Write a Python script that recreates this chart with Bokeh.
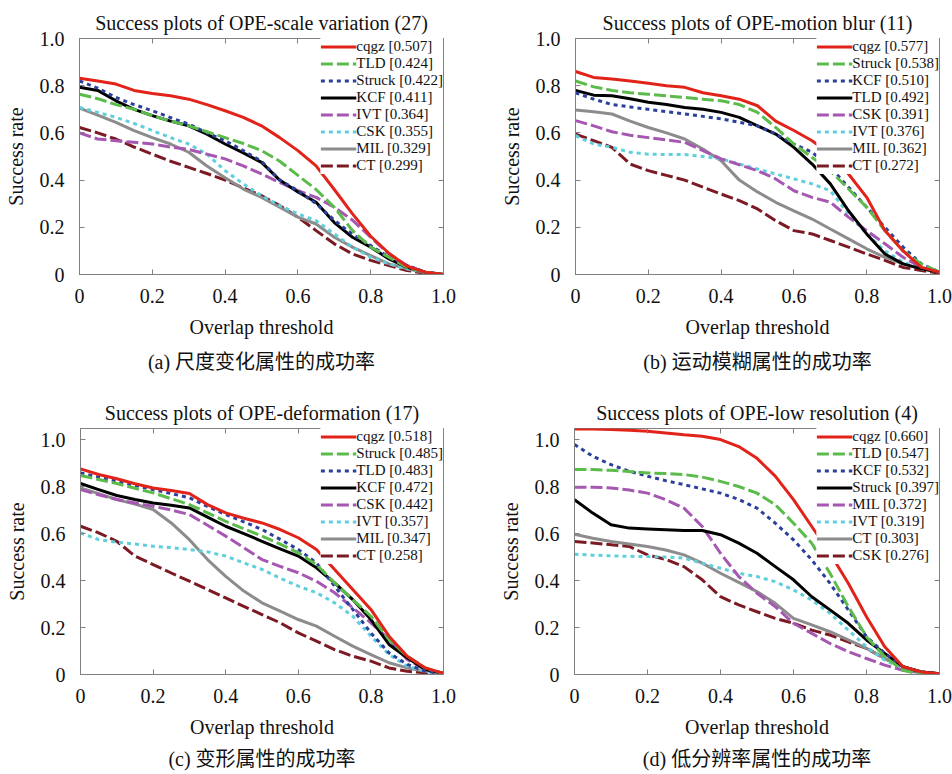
from bokeh.plotting import figure
from bokeh.layouts import column, row
from bokeh.models import Legend, LegendItem, LinearAxis, Title, FixedTicker, Range1d
from bokeh.embed import file_html
from bokeh.resources import INLINE

# ---------------- data ----------------
x = [0.0, 0.05, 0.1, 0.15, 0.2, 0.25, 0.3, 0.35, 0.4, 0.45, 0.5,
     0.55, 0.6, 0.65, 0.7, 0.75, 0.8, 0.85, 0.9, 0.95, 1.0]
ticks = [0, 0.2, 0.4, 0.6, 0.8, 1.0]
tick_labels = ["0", "0.2", "0.4", "0.6", "0.8", "1.0"]

titles = ["Success plots of OPE-scale variation (27)",
          "Success plots of OPE-motion blur (11)",
          "Success plots of OPE-deformation (17)",
          "Success plots of OPE-low resolution (4)"]
captions = ["(a) 尺度变化属性的成功率", "(b) 运动模糊属性的成功率",
            "(c) 变形属性的成功率", "(d) 低分辨率属性的成功率"]

# (a) scale variation
names_a = ["cqgz", "TLD", "Struck", "KCF", "IVT", "CSK", "MIL", "CT"]
scores_a = [0.507, 0.424, 0.422, 0.411, 0.364, 0.355, 0.329, 0.299]
a_cqgz = [0.832, 0.82, 0.807, 0.78, 0.767, 0.757, 0.743, 0.72, 0.694, 0.666, 0.63, 0.58, 0.525, 0.46, 0.36, 0.257, 0.162, 0.09, 0.035, 0.01, 0.0]
a_tld = [0.764, 0.745, 0.72, 0.70, 0.673, 0.65, 0.63, 0.605, 0.58, 0.555, 0.525, 0.48, 0.42, 0.36, 0.285, 0.186, 0.116, 0.073, 0.03, 0.01, 0.0]
a_struck = [0.82, 0.79, 0.75, 0.72, 0.694, 0.665, 0.637, 0.60, 0.567, 0.525, 0.48, 0.40, 0.355, 0.30, 0.23, 0.17, 0.123, 0.073, 0.038, 0.01, 0.0]
a_kcf = [0.793, 0.78, 0.736, 0.70, 0.673, 0.65, 0.63, 0.595, 0.553, 0.515, 0.475, 0.40, 0.35, 0.306, 0.22, 0.158, 0.116, 0.066, 0.03, 0.01, 0.0]
a_ivt = [0.60, 0.574, 0.567, 0.56, 0.553, 0.54, 0.53, 0.51, 0.49, 0.46, 0.426, 0.39, 0.355, 0.327, 0.285, 0.23, 0.158, 0.087, 0.038, 0.01, 0.0]
a_csk = [0.708, 0.687, 0.666, 0.64, 0.61, 0.58, 0.553, 0.51, 0.44, 0.384, 0.334, 0.292, 0.257, 0.228, 0.172, 0.116, 0.073, 0.045, 0.024, 0.01, 0.0]
a_mil = [0.705, 0.675, 0.645, 0.61, 0.58, 0.553, 0.518, 0.46, 0.41, 0.362, 0.327, 0.285, 0.243, 0.214, 0.158, 0.116, 0.08, 0.045, 0.024, 0.008, 0.0]
a_ct = [0.623, 0.60, 0.574, 0.54, 0.51, 0.48, 0.454, 0.428, 0.40, 0.367, 0.334, 0.292, 0.243, 0.186, 0.13, 0.087, 0.06, 0.038, 0.017, 0.005, 0.0]

# (b) motion blur
names_b = ["cqgz", "Struck", "KCF", "TLD", "CSK", "IVT", "MIL", "CT"]
scores_b = [0.577, 0.538, 0.510, 0.492, 0.391, 0.376, 0.362, 0.272]
b_cqgz = [0.86, 0.835, 0.828, 0.82, 0.81, 0.80, 0.793, 0.77, 0.757, 0.743, 0.715, 0.65, 0.61, 0.567, 0.51, 0.426, 0.327, 0.186, 0.10, 0.03, 0.01]
b_struck = [0.82, 0.795, 0.78, 0.77, 0.764, 0.757, 0.75, 0.743, 0.736, 0.72, 0.687, 0.623, 0.553, 0.496, 0.44, 0.362, 0.285, 0.186, 0.10, 0.045, 0.01]
b_kcf = [0.77, 0.743, 0.72, 0.71, 0.70, 0.69, 0.68, 0.67, 0.66, 0.645, 0.63, 0.595, 0.553, 0.518, 0.454, 0.37, 0.285, 0.20, 0.116, 0.045, 0.01]
b_tld = [0.78, 0.76, 0.757, 0.745, 0.73, 0.72, 0.708, 0.70, 0.687, 0.666, 0.63, 0.595, 0.539, 0.468, 0.384, 0.27, 0.172, 0.087, 0.045, 0.024, 0.01]
b_csk = [0.652, 0.63, 0.605, 0.59, 0.58, 0.57, 0.56, 0.525, 0.49, 0.465, 0.44, 0.405, 0.355, 0.327, 0.306, 0.243, 0.186, 0.13, 0.073, 0.03, 0.01]
b_ivt = [0.588, 0.553, 0.539, 0.518, 0.51, 0.508, 0.508, 0.50, 0.49, 0.468, 0.447, 0.426, 0.405, 0.384, 0.355, 0.257, 0.172, 0.10, 0.052, 0.024, 0.01]
b_mil = [0.697, 0.69, 0.68, 0.65, 0.623, 0.60, 0.574, 0.532, 0.482, 0.40, 0.35, 0.306, 0.27, 0.235, 0.193, 0.151, 0.109, 0.073, 0.045, 0.024, 0.01]
b_ct = [0.595, 0.567, 0.539, 0.468, 0.44, 0.42, 0.40, 0.37, 0.341, 0.313, 0.278, 0.228, 0.186, 0.172, 0.144, 0.116, 0.087, 0.06, 0.03, 0.017, 0.005]

# (c) deformation
names_c = ["cqgz", "Struck", "TLD", "KCF", "CSK", "IVT", "MIL", "CT"]
scores_c = [0.518, 0.485, 0.483, 0.472, 0.442, 0.357, 0.347, 0.258]
c_cqgz = [0.875, 0.851, 0.833, 0.812, 0.794, 0.783, 0.77, 0.723, 0.688, 0.665, 0.645, 0.617, 0.582, 0.532, 0.447, 0.362, 0.277, 0.163, 0.078, 0.028, 0.005]
c_struck = [0.847, 0.83, 0.813, 0.793, 0.773, 0.748, 0.723, 0.688, 0.652, 0.62, 0.589, 0.555, 0.518, 0.468, 0.39, 0.319, 0.248, 0.149, 0.078, 0.028, 0.005]
c_tld = [0.858, 0.84, 0.823, 0.805, 0.787, 0.77, 0.752, 0.715, 0.681, 0.65, 0.617, 0.575, 0.532, 0.475, 0.376, 0.277, 0.177, 0.092, 0.043, 0.014, 0.005]
c_kcf = [0.813, 0.787, 0.762, 0.745, 0.73, 0.72, 0.709, 0.67, 0.631, 0.60, 0.567, 0.535, 0.504, 0.454, 0.39, 0.319, 0.234, 0.128, 0.071, 0.021, 0.005]
c_csk = [0.787, 0.765, 0.745, 0.73, 0.716, 0.70, 0.681, 0.635, 0.589, 0.54, 0.489, 0.46, 0.433, 0.397, 0.348, 0.284, 0.22, 0.149, 0.064, 0.021, 0.005]
c_ivt = [0.603, 0.574, 0.563, 0.555, 0.546, 0.54, 0.532, 0.522, 0.504, 0.475, 0.447, 0.41, 0.376, 0.348, 0.305, 0.248, 0.163, 0.085, 0.035, 0.014, 0.005]
c_mil = [0.794, 0.77, 0.745, 0.725, 0.702, 0.645, 0.574, 0.489, 0.418, 0.355, 0.305, 0.27, 0.234, 0.206, 0.163, 0.121, 0.085, 0.05, 0.028, 0.014, 0.005]
c_ct = [0.631, 0.603, 0.567, 0.504, 0.468, 0.432, 0.397, 0.362, 0.326, 0.29, 0.255, 0.22, 0.177, 0.142, 0.106, 0.078, 0.057, 0.028, 0.014, 0.007, 0.003]

# (d) low resolution
names_d = ["cqgz", "TLD", "KCF", "Struck", "MIL", "IVT", "CT", "CSK"]
scores_d = [0.660, 0.547, 0.532, 0.397, 0.372, 0.319, 0.303, 0.276]
d_cqgz = [1.045, 1.045, 1.043, 1.04, 1.035, 1.028, 1.02, 1.014, 1.0, 0.97, 0.92, 0.844, 0.744, 0.63, 0.516, 0.388, 0.246, 0.118, 0.033, 0.011, 0.003]
d_tld = [0.872, 0.872, 0.869, 0.864, 0.858, 0.855, 0.851, 0.84, 0.822, 0.80, 0.772, 0.723, 0.644, 0.559, 0.431, 0.289, 0.161, 0.075, 0.018, 0.0, 0.0]
d_kcf = [0.979, 0.929, 0.893, 0.865, 0.844, 0.825, 0.808, 0.79, 0.772, 0.745, 0.708, 0.644, 0.573, 0.488, 0.388, 0.275, 0.161, 0.09, 0.033, 0.011, 0.003]
d_struck = [0.744, 0.687, 0.637, 0.623, 0.619, 0.616, 0.613, 0.613, 0.595, 0.559, 0.516, 0.459, 0.403, 0.331, 0.275, 0.218, 0.147, 0.09, 0.033, 0.011, 0.003]
d_mil = [0.797, 0.797, 0.794, 0.785, 0.772, 0.744, 0.708, 0.63, 0.516, 0.417, 0.346, 0.289, 0.218, 0.175, 0.132, 0.097, 0.068, 0.04, 0.018, 0.007, 0.003]
d_ivt = [0.512, 0.508, 0.505, 0.503, 0.502, 0.50, 0.495, 0.474, 0.452, 0.431, 0.417, 0.395, 0.36, 0.317, 0.26, 0.189, 0.118, 0.061, 0.026, 0.007, 0.003]
d_ct = [0.597, 0.58, 0.566, 0.555, 0.545, 0.53, 0.509, 0.474, 0.431, 0.392, 0.353, 0.303, 0.239, 0.211, 0.182, 0.147, 0.111, 0.068, 0.033, 0.011, 0.003]
d_csk = [0.566, 0.56, 0.552, 0.545, 0.509, 0.49, 0.459, 0.403, 0.331, 0.296, 0.267, 0.239, 0.218, 0.189, 0.168, 0.139, 0.111, 0.068, 0.033, 0.011, 0.003]

series_a = [a_cqgz, a_tld, a_struck, a_kcf, a_ivt, a_csk, a_mil, a_ct]
series_b = [b_cqgz, b_struck, b_kcf, b_tld, b_csk, b_ivt, b_mil, b_ct]
series_c = [c_cqgz, c_struck, c_tld, c_kcf, c_csk, c_ivt, c_mil, c_ct]
series_d = [d_cqgz, d_tld, d_kcf, d_struck, d_mil, d_ivt, d_ct, d_csk]

# ---------------- styles (by rank) ----------------
colors = ["#e2231a", "#5bbb4b", "#2b3f9c", "#000000", "#a657b2", "#5fcfdc", "#8c8c8c", "#7c1a24"]
dashes = ["solid", "12 4", "4 4", "solid", "12 4", "4 4", "solid", "12 4"]
SERIF = "Liberation Serif"
CAPFONT = "Liberation Serif, Noto Sans CJK SC"
GRAY = "#808080"


def make_panel(title, caption, names, scores, series, ymax, height,
               bl, br, bt, bb, cap_standoff):
    p = figure(width=476, height=height, output_backend="svg", toolbar_location=None,
               x_range=Range1d(0, 1), y_range=Range1d(0, ymax),
               min_border_left=bl, min_border_right=br,
               min_border_top=bt, min_border_bottom=bb)
    p.grid.visible = False
    p.outline_line_color = GRAY
    p.outline_line_width = 1
    p.background_fill_color = "white"
    p.border_fill_color = "white"

    p.title.text = title
    p.title.align = "center"
    p.title.text_font = SERIF
    p.title.text_font_style = "normal"
    p.title.text_font_size = "20px"
    p.title.text_color = "#111111"
    p.title.standoff = 9

    for ax in (p.xaxis[0], p.yaxis[0]):
        ax.ticker = FixedTicker(ticks=ticks)
        ax.major_label_overrides = {t: lab for t, lab in zip(ticks, tick_labels)}
        ax.major_tick_in = 5
        ax.major_tick_out = 0
        ax.minor_tick_line_color = None
        ax.axis_line_color = GRAY
        ax.major_tick_line_color = GRAY
        ax.major_label_text_font = SERIF
        ax.major_label_text_font_size = "20px"
        ax.major_label_text_color = "#111111"
        ax.axis_label_text_font = SERIF
        ax.axis_label_text_font_size = "20px"
        ax.axis_label_text_font_style = "normal"
        ax.axis_label_text_color = "#111111"
    p.xaxis.axis_label = "Overlap threshold"
    p.yaxis.axis_label = "Success rate"
    p.xaxis.major_label_standoff = 14
    p.xaxis.axis_label_standoff = 10
    p.yaxis.major_label_standoff = 15
    p.yaxis.axis_label_standoff = 10

    # mirror tick marks on the top and right edges (minor ticks only: no labels)
    for loc in ("above", "right"):
        m = LinearAxis(ticker=FixedTicker(ticks=[], minor_ticks=ticks),
                       minor_tick_in=5, minor_tick_out=0, minor_tick_line_color=GRAY,
                       major_tick_line_color=None, axis_line_color=None,
                       major_label_standoff=0)
        p.add_layout(m, loc)

    cap = Title(text=caption, align="center", text_font=CAPFONT, text_font_size="20px",
                text_font_style="normal", text_color="#111111", standoff=cap_standoff)
    p.add_layout(cap, "below")

    items = []
    for i, (n, s, ys) in enumerate(zip(names, scores, series)):
        r = p.line(x, ys, line_color=colors[i], line_width=3, line_dash=dashes[i],
                   line_cap="butt", line_join="round")
        items.append(LegendItem(label=f"{n} [{s:.3f}]", renderers=[r]))
    p.renderers = p.renderers[::-1]

    leg = Legend(items=items, location="top_right", label_text_font=SERIF,
                 label_text_font_size="15px", label_text_color="#111111",
                 glyph_width=36, glyph_height=15, label_height=15, label_standoff=0,
                 spacing=0, padding=2, margin=0, border_line_color=None,
                 background_fill_color="white", background_fill_alpha=1.0)
    p.add_layout(leg)
    return p


pa = make_panel(titles[0], captions[0], names_a, scores_a, series_a, 1.0, 390, 79, 33, 38, 116, 17)
pb = make_panel(titles[1], captions[1], names_b, scores_b, series_b, 1.0, 390, 99, 13, 38, 116, 17)
pc = make_panel(titles[2], captions[2], names_c, scores_c, series_c, 1.047, 384, 80, 33, 38, 100, 10)
pd = make_panel(titles[3], captions[3], names_d, scores_d, series_d, 1.047, 384, 98, 13, 38, 100, 10)

layout = column(row(pa, pb), row(pc, pd))

open("out.html", "w").write(file_html(layout, INLINE))
